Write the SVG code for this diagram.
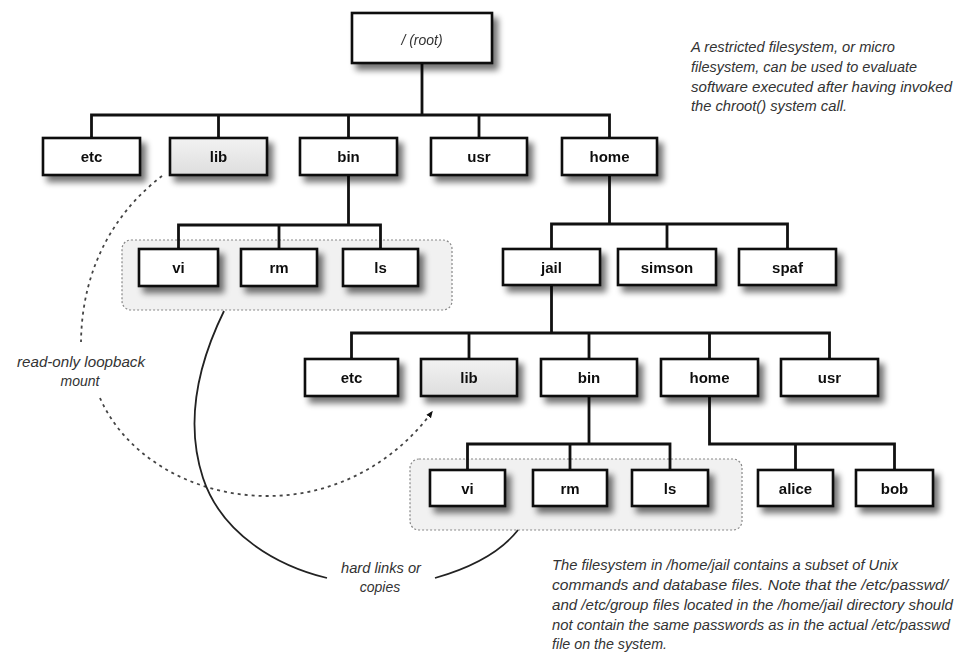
<svg xmlns="http://www.w3.org/2000/svg" width="955" height="657" viewBox="0 0 955 657">
<defs>
<filter id="sh" x="-20%" y="-30%" width="150%" height="180%">
<feGaussianBlur in="SourceAlpha" stdDeviation="3"/>
<feOffset dx="5" dy="6" result="b"/>
<feComponentTransfer in="b" result="c"><feFuncA type="linear" slope="0.55"/></feComponentTransfer>
<feMerge><feMergeNode in="c"/><feMergeNode in="SourceGraphic"/></feMerge>
</filter>
<linearGradient id="gl" x1="0" y1="0" x2="0" y2="1"><stop offset="0" stop-color="#f2f2f2"/><stop offset="1" stop-color="#dedede"/></linearGradient>
<marker id="ah" viewBox="0 0 10 10" refX="8" refY="5" markerWidth="7" markerHeight="7" orient="auto" markerUnits="userSpaceOnUse"><path d="M0,1 L10,5 L0,9 z" fill="#111"/></marker>
<style>
.box{fill:#fff;stroke:#111;stroke-width:2.6}
.gbox{fill:url(#gl);stroke:#111;stroke-width:2.6}
.lbl{font-family:"Liberation Sans",Arial,sans-serif;font-weight:bold;font-size:15px;fill:#111;text-anchor:middle}
.con{fill:none;stroke:#111;stroke-width:2.8}
.grp{fill:#f1f1f1;stroke:#888;stroke-width:1.2;stroke-dasharray:2 2}
.note{font-family:"Liberation Sans",Arial,sans-serif;font-style:italic;font-size:14px;fill:#333}
.cnote{font-family:"Liberation Sans",Arial,sans-serif;font-style:italic;font-size:14px;fill:#333;text-anchor:middle}
</style>
</defs>
<rect width="955" height="657" fill="#fff"/>

<g id="groups">
<rect class="grp" x="122" y="240" width="330" height="70" rx="9"/>
<rect class="grp" x="410" y="459" width="332" height="71" rx="9"/>
</g>

<g id="connectors">
<path class="con" d="M422,63 V115 M91.5,138 V115 H609.5 V138 M218.5,115 V138 M348.5,115 V138 M479,115 V138"/>
<path class="con" d="M348.5,175 V225 M178.5,249 V225 H380.5 V249 M279,225 V249"/>
<path class="con" d="M609.5,175 V224 M551.5,249 V224 H787.5 V249 M667,224 V249"/>
<path class="con" d="M551.5,285 V333 M351.5,359 V333 H829.5 V359 M469,333 V359 M589,333 V359 M709.5,333 V359"/>
<path class="con" d="M589,396 V444 M467.5,470 V444 H670 V470 M570,444 V470"/>
<path class="con" d="M709.5,396 V444 H894.5 V470 M795.5,444 V470"/>
<path d="M162,176 C120,208 82,262 81,342" fill="none" stroke="#444" stroke-width="1.8" stroke-dasharray="3 4"/>
<path d="M100,398 C125,455 190,495 265,496 C335,497 395,462 432,412" fill="none" stroke="#444" stroke-width="1.8" stroke-dasharray="3 4" marker-end="url(#ah)"/>
<path d="M224,311 C200,360 184,420 203,478 C222,535 278,566 327,578" fill="none" stroke="#222" stroke-width="1.8"/>
<path d="M435,578 C470,568 500,553 518,530" fill="none" stroke="#222" stroke-width="1.8"/>
</g>

<g id="root" filter="url(#sh)"><rect class="box" x="352" y="13" width="140" height="50"/><text x="422" y="45" text-anchor="middle" font-family="Liberation Sans, Arial, sans-serif" font-style="italic" font-size="14" fill="#333">/ (root)</text></g>

<g id="etc1" filter="url(#sh)"><rect class="box" x="43" y="138" width="97" height="37"/><text class="lbl" x="91.5" y="162">etc</text></g>
<g id="lib1" filter="url(#sh)"><rect class="gbox" x="170" y="138" width="97" height="37"/><text class="lbl" x="218.5" y="162">lib</text></g>
<g id="bin1" filter="url(#sh)"><rect class="box" x="300" y="138" width="97" height="37"/><text class="lbl" x="348.5" y="162">bin</text></g>
<g id="usr1" filter="url(#sh)"><rect class="box" x="431" y="138" width="96" height="37"/><text class="lbl" x="479" y="162">usr</text></g>
<g id="home1" filter="url(#sh)"><rect class="box" x="562" y="138" width="95" height="37"/><text class="lbl" x="609.5" y="162">home</text></g>

<g id="vi1" filter="url(#sh)"><rect class="box" x="139" y="249" width="79" height="37"/><text class="lbl" x="178.5" y="273">vi</text></g>
<g id="rm1" filter="url(#sh)"><rect class="box" x="241" y="249" width="76" height="37"/><text class="lbl" x="279" y="273">rm</text></g>
<g id="ls1" filter="url(#sh)"><rect class="box" x="343" y="249" width="75" height="37"/><text class="lbl" x="380.5" y="273">ls</text></g>

<g id="jail" filter="url(#sh)"><rect class="box" x="503" y="249" width="97" height="36"/><text class="lbl" x="551.5" y="273">jail</text></g>
<g id="simson" filter="url(#sh)"><rect class="box" x="618" y="249" width="98" height="36"/><text class="lbl" x="667" y="273">simson</text></g>
<g id="spaf" filter="url(#sh)"><rect class="box" x="739" y="249" width="97" height="36"/><text class="lbl" x="787.5" y="273">spaf</text></g>

<g id="etc2" filter="url(#sh)"><rect class="box" x="305" y="359" width="93" height="37"/><text class="lbl" x="351.5" y="383">etc</text></g>
<g id="lib2" filter="url(#sh)"><rect class="gbox" x="421" y="359" width="96" height="37"/><text class="lbl" x="469" y="383">lib</text></g>
<g id="bin2" filter="url(#sh)"><rect class="box" x="541" y="359" width="96" height="37"/><text class="lbl" x="589" y="383">bin</text></g>
<g id="home2" filter="url(#sh)"><rect class="box" x="661" y="359" width="97" height="37"/><text class="lbl" x="709.5" y="383">home</text></g>
<g id="usr2" filter="url(#sh)"><rect class="box" x="781" y="359" width="97" height="37"/><text class="lbl" x="829.5" y="383">usr</text></g>

<g id="vi2" filter="url(#sh)"><rect class="box" x="430" y="470" width="75" height="36"/><text class="lbl" x="467.5" y="494">vi</text></g>
<g id="rm2" filter="url(#sh)"><rect class="box" x="533" y="470" width="74" height="36"/><text class="lbl" x="570" y="494">rm</text></g>
<g id="ls2" filter="url(#sh)"><rect class="box" x="632" y="470" width="76" height="36"/><text class="lbl" x="670" y="494">ls</text></g>
<g id="alice" filter="url(#sh)"><rect class="box" x="758" y="470" width="75" height="36"/><text class="lbl" x="795.5" y="494">alice</text></g>
<g id="bob" filter="url(#sh)"><rect class="box" x="856" y="470" width="77" height="36"/><text class="lbl" x="894.5" y="494">bob</text></g>

<g id="notes">
<text class="note" x="691" y="52" textLength="204" lengthAdjust="spacingAndGlyphs">A restricted filesystem, or micro</text>
<text class="note" x="691" y="72" textLength="226" lengthAdjust="spacingAndGlyphs">filesystem, can be used to evaluate</text>
<text class="note" x="691" y="92" textLength="261" lengthAdjust="spacingAndGlyphs">software executed after having invoked</text>
<text class="note" x="691" y="111" textLength="156" lengthAdjust="spacingAndGlyphs">the chroot() system call.</text>
<text class="cnote" x="81" y="367" textLength="128" lengthAdjust="spacingAndGlyphs">read-only loopback</text>
<text class="cnote" x="80" y="386">mount</text>
<text class="cnote" x="381" y="573" textLength="80" lengthAdjust="spacingAndGlyphs">hard links or</text>
<text class="cnote" x="380" y="592">copies</text>
<text class="note" x="552" y="570" textLength="346" lengthAdjust="spacingAndGlyphs">The filesystem in /home/jail contains a subset of Unix</text>
<text class="note" x="552" y="590" textLength="396" lengthAdjust="spacingAndGlyphs">commands and database files. Note that the /etc/passwd/</text>
<text class="note" x="552" y="610" textLength="401" lengthAdjust="spacingAndGlyphs">and /etc/group files located in the /home/jail directory should</text>
<text class="note" x="552" y="630" textLength="398" lengthAdjust="spacingAndGlyphs">not contain the same passwords as in the actual /etc/passwd</text>
<text class="note" x="552" y="649" textLength="115" lengthAdjust="spacingAndGlyphs">file on the system.</text>
</g>
</svg>
